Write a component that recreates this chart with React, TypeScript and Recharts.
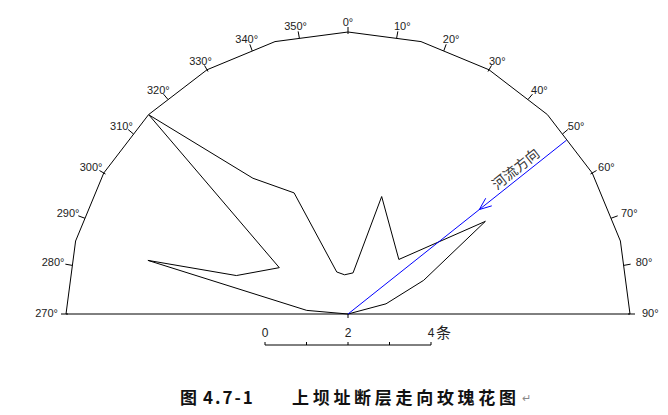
import React from 'react';
import {
  RadarChart, Radar, PolarGrid, PolarAngleAxis, PolarRadiusAxis, LineChart, XAxis,
} from 'recharts';

const roseDirs = [270, 275, 285, 289, 304, 315, 325, 336, 345, 355, 7, 16, 43, 56, 66, 75, 90];
const roseCounts = [0, 1, 5, 2.85, 2, 6.8, 4, 3.2, 1.05, 0.95, 1, 2.95, 1.8, 4, 2, 0.95, 0];

// outer frame corners and the labelled directions
const frameDirs = [270, 285, 300, 315, 330, 345, 0, 15, 30, 45, 60, 75, 90];
const labelDirs = [270, 280, 290, 300, 310, 320, 330, 340, 350, 0, 10, 20, 30, 40, 50, 60, 70, 80, 90];
const radiusMax = 7; // counts at outerRadius (frame sits at 6.8)

// river direction arrow
const riverDir = 51.5;
const riverArrowAt = 4.05;
const riverLabelAt = 5.35;
const riverEnd = 6.74;
const riverLabel = '河流方向';

// scale bar
const scaleTicks = [0, 1, 2, 3, 4];
const scaleUnit = '条';

const captionNo = '4.7-1';
const captionTitle = '上坝址断层走向玫瑰花图';

const unwrap = (d: number) => (d < 180 ? d + 360 : d);

const roseData = roseDirs.map((d, i) => ({ dir: unwrap(d), count: roseCounts[i] }));
const frameTicks = frameDirs.map(unwrap);
const labelTicks = labelDirs.map(unwrap);
const scaleData = scaleTicks.map((v) => ({ v }));

const rad = (d: number) => (d * Math.PI) / 180;

function AngleTick(props: any) {
  const { x, y, payload } = props;
  const deg = payload.value % 360;
  const a = rad(payload.coordinate);
  const ux = Math.cos(a);
  const uy = -Math.sin(a);
  const c = Math.cos(rad(deg));
  let anchor = 'middle';
  let tx = x;
  if (deg > 0 && deg <= 90) {
    anchor = 'start';
    tx = x - 4 + 11 * (1 - c);
  } else if (deg >= 270) {
    anchor = 'end';
    tx = x + 12 * c - 3;
  }
  const ty = y - 1 - 4 * Math.abs(c);
  return (
    <g>
      <line x1={x - 7 * ux} y1={y - 7 * uy} x2={x} y2={y} stroke="#000" />
      <text x={tx} y={ty} dy="0.35em" textAnchor={anchor} fontSize={11} fill="#222"
        fontFamily="'Liberation Sans', Arial, sans-serif">
        {deg}°
      </text>
    </g>
  );
}

function RiverTick(props: any) {
  const { x, y, payload } = props;
  const a = rad(90 - riverDir);
  if (payload.value === 0) {
    // small mark under the centre
    return <line x1={x} y1={y} x2={x} y2={y + 4} stroke="#000" />;
  }
  if (payload.value === riverArrowAt) {
    const b1 = a + rad(22);
    const b2 = a - rad(22);
    return (
      <g stroke="#0000ff" fill="none">
        <line x1={x} y1={y} x2={x + 13 * Math.cos(b1)} y2={y - 13 * Math.sin(b1)} />
        <line x1={x} y1={y} x2={x + 13 * Math.cos(b2)} y2={y - 13 * Math.sin(b2)} />
      </g>
    );
  }
  if (payload.value === riverLabelAt) {
    const px = x - 9 * Math.sin(a);
    const py = y - 9 * Math.cos(a);
    return (
      <text transform={`translate(${px},${py}) rotate(${-(90 - riverDir)})`} textAnchor="middle" dy="0.35em"
        fontSize={14} fill="#333" fontFamily="'Noto Sans CJK SC', sans-serif">
        {riverLabel}
      </text>
    );
  }
  return <g />;
}

function ScaleTick(props: any) {
  const { x, y, payload } = props;
  if (payload.value % 2 !== 0) return <g />;
  return (
    <g>
      <text x={x} y={y - 3} textAnchor="middle" fontSize={12} fill="#222"
        fontFamily="'Liberation Sans', Arial, sans-serif">
        {payload.value}
      </text>
      {payload.value === scaleTicks[scaleTicks.length - 1] && (
        <text x={x + 5} y={y - 2} fontSize={15} fill="#222" fontFamily="'Noto Sans CJK SC', sans-serif">
          {scaleUnit}
        </text>
      )}
    </g>
  );
}

export default function App() {
  const cap = { position: 'absolute' as const, top: 386, fontFamily: "'Noto Sans CJK SC', sans-serif", fontWeight: 700, fontSize: 17, color: '#111', whiteSpace: 'nowrap' as const, lineHeight: '22px' };
  return (
    <div style={{ position: 'absolute', left: 0, top: 0, width: 668, height: 415, background: '#fff' }}>
      <RadarChart width={668} height={415} data={roseData} cx={348} cy={314} outerRadius={290}
        startAngle={180} endAngle={0} margin={{ top: 0, right: 0, bottom: 0, left: 0 }}
        style={{ position: 'absolute', left: 0, top: 0 }}>
        <PolarAngleAxis angleAxisId="frame" dataKey="dir" type="number" domain={[270, 450]} ticks={frameTicks}
          tickCount={13} tick={false} tickLine={false} axisLine={false} />
        <PolarAngleAxis angleAxisId="lab" dataKey="dir" type="number" domain={[270, 450]} ticks={labelTicks}
          tickCount={19} tick={<AngleTick />} tickLine={false} axisLine={false} orientation="inner" tickSize={3} />
        <PolarRadiusAxis radiusAxisId="main" type="number" dataKey="count" domain={[0, radiusMax]} allowDataOverflow
          tick={false} axisLine={false} />
        <PolarRadiusAxis radiusAxisId="river" type="number" dataKey="count" domain={[0, radiusMax]} allowDataOverflow
          angle={90 - riverDir} ticks={[0, riverArrowAt, riverLabelAt, riverEnd]} tick={<RiverTick />}
          tickLine={false} axisLine={{ stroke: '#0000ff', strokeWidth: 1 }} />
        <PolarGrid angleAxisId="frame" radiusAxisId="main" gridType="polygon" radialLines={false}
          polarRadius={[282]} stroke="#000" strokeWidth={1} />
        <Radar angleAxisId="lab" radiusAxisId="main" dataKey="count" stroke="#000" strokeWidth={1}
          fill="none" fillOpacity={0} dot={false} isAnimationActive={false} />
      </RadarChart>

      <LineChart width={668} height={40} data={scaleData} margin={{ top: 0, right: 237, bottom: 0, left: 265 }}
        style={{ position: 'absolute', left: 0, top: 315 }}>
        <XAxis dataKey="v" type="number" domain={[0, 4]} ticks={scaleTicks} interval={0} orientation="top"
          height={30} tickSize={3} stroke="#000" tick={<ScaleTick />} />
      </LineChart>

      <span style={{ ...cap, left: 180 }}>图</span>
      <span style={{ ...cap, left: 203, letterSpacing: 2 }}>{captionNo}</span>
      <span style={{ ...cap, left: 292, letterSpacing: 3.7 }}>{captionTitle}</span>
      <span style={{ ...cap, left: 522, fontSize: 11, fontWeight: 400, color: '#888' }}>↵</span>
    </div>
  );
}
